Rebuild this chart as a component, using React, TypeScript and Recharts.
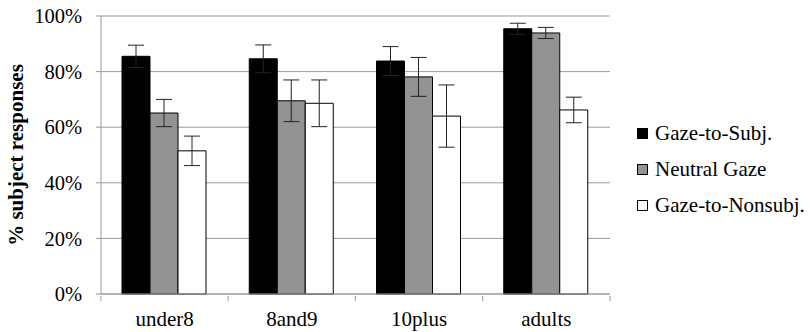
import React from 'react'
import {
  BarChart, Bar, XAxis, YAxis, CartesianGrid, Legend, ErrorBar, Label
} from 'recharts'

const groups = ['under8', '8and9', '10plus', 'adults']
const gazeToSubj = [85.5, 84.6, 83.8, 95.4]
const gazeToSubjErr = [4, 5, 5.2, 2]
const neutralGaze = [65.1, 69.5, 78.1, 93.9]
const neutralGazeErr = [4.9, 7.5, 7, 2]
const gazeToNonsubj = [51.5, 68.6, 64, 66.2]
const gazeToNonsubjErr = [5.3, 8.4, 11.2, 4.6]
const yTicks = [0, 20, 40, 60, 80, 100]

const series = [
  { key: 'subj', err: 'subjErr', name: 'Gaze-to-Subj.', fill: '#000000' },
  { key: 'neutral', err: 'neutralErr', name: 'Neutral Gaze', fill: '#939393' },
  { key: 'nonsubj', err: 'nonsubjErr', name: 'Gaze-to-Nonsubj.', fill: '#ffffff' },
]

const data = groups.map((g, i) => ({
  group: g,
  subj: gazeToSubj[i],
  subjErr: gazeToSubjErr[i],
  neutral: neutralGaze[i],
  neutralErr: neutralGazeErr[i],
  nonsubj: gazeToNonsubj[i],
  nonsubjErr: gazeToNonsubjErr[i],
}))

const FONT = 'Liberation Serif, DejaVu Serif, serif'
const AXIS = '#9a9a9a'
const BAND = 510 / groups.length

function GroupTick(props: any) {
  const { x, y, payload, index } = props
  const last = index === groups.length - 1
  return (
    <g>
      <line x1={x - BAND / 2} x2={x - BAND / 2} y1={y - 6} y2={y - 1} stroke={AXIS} />
      {last && <line x1={x + BAND / 2} x2={x + BAND / 2} y1={y - 6} y2={y - 1} stroke={AXIS} />}
      <text x={x} y={y + 24} textAnchor="middle" fontFamily={FONT} fontSize={21} fill="#000">
        {payload.value}
      </text>
    </g>
  )
}

function LegendBox() {
  return (
    <div style={{ fontFamily: FONT, fontSize: 21, color: '#000', lineHeight: 1 }}>
      {series.map(s => (
        <div key={s.key} style={{ display: 'flex', alignItems: 'center', height: 36 }}>
          <span style={{
            display: 'inline-block', width: 9, height: 9, background: s.fill,
            border: '1px solid #000', marginRight: 7
          }} />
          {s.name}
        </div>
      ))}
    </div>
  )
}

export default function App() {
  return (
    <div style={{ position: 'absolute', left: 0, top: 0, background: '#fff' }}>
      <BarChart
        width={810}
        height={332}
        data={data}
        margin={{ top: 16, right: 200, left: 0, bottom: 8 }}
        barGap={0}
        barCategoryGap={21}
      >
        <CartesianGrid vertical={false} stroke={AXIS} />
        <XAxis
          dataKey="group"
          stroke={AXIS}
          tickLine={false}
          tick={<GroupTick />}
          height={30}
          interval={0}
        />
        <YAxis
          width={101}
          domain={[0, 100]}
          ticks={yTicks}
          tickFormatter={(v: number) => `${v}%`}
          stroke={AXIS}
          tickSize={5}
          tickMargin={14}
          tick={{ fontFamily: FONT, fontSize: 20.5, fill: '#000' }}
        >
          <Label
            content={(p: any) => {
              const vb = p.viewBox
              const cy = vb.y + vb.height / 2
              return (
                <text
                  x={16}
                  y={cy}
                  dy="0.35em"
                  transform={`rotate(-90 16 ${cy})`}
                  textAnchor="middle"
                  fontFamily={FONT}
                  fontSize={21}
                  fontWeight="bold"
                  fill="#000"
                >
                  % subject responses
                </text>
              )
            }}
          />
        </YAxis>
        <Legend
          layout="vertical"
          align="center"
          verticalAlign="middle"
          content={<LegendBox />}
          wrapperStyle={{ left: 637, top: 115, width: 173 }}
        />
        {series.map(s => (
          <Bar
            key={s.key}
            dataKey={s.key}
            name={s.name}
            fill={s.fill}
            stroke="#000"
            strokeWidth={1}
            isAnimationActive={false}
          >
            <ErrorBar dataKey={s.err} width={8} stroke="#222" strokeWidth={1} direction="y" />
          </Bar>
        ))}
      </BarChart>
    </div>
  )
}
